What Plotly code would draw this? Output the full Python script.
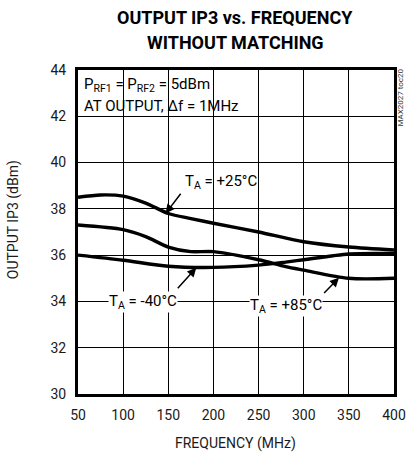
import plotly.graph_objects as go

# ---- data ----
freq_25 = [50, 75, 100, 125, 150, 175, 200, 250, 300, 350, 400]
ip3_25 = [38.5, 38.6, 38.55, 38.25, 37.8, 37.58, 37.38, 37.0, 36.58, 36.35, 36.22]

freq_85 = [50, 100, 125, 150, 175, 200, 250, 280, 300, 350, 400]
ip3_85 = [37.3, 37.1, 36.8, 36.35, 36.15, 36.15, 35.8, 35.5, 35.35, 35.0, 35.0]

freq_m40 = [50, 100, 150, 200, 250, 280, 300, 350, 400]
ip3_m40 = [36.0, 35.78, 35.52, 35.47, 35.57, 35.7, 35.8, 36.05, 36.07]

x_ticks = [50, 100, 150, 200, 250, 300, 350, 400]
y_ticks = [30, 32, 34, 36, 38, 40, 42, 44]

FONT = "Roboto, Arial, sans-serif"
TXT = "#1a1a1a"

fig = go.Figure()
for fx, fy in [(freq_25, ip3_25), (freq_85, ip3_85), (freq_m40, ip3_m40)]:
    fig.add_trace(go.Scatter(x=fx, y=fy, mode="lines",
                             line=dict(color="black", width=3.4, shape="spline", smoothing=0.8),
                             showlegend=False, hoverinfo="skip"))

axis_common = dict(showgrid=True, gridcolor="black", gridwidth=1, zeroline=False,
                   ticks="", showline=True, linecolor="black", linewidth=3, mirror=True,
                   tickfont=dict(family=FONT, size=14, color=TXT))

fig.update_xaxes(range=[50, 400], tickvals=x_ticks, ticktext=[str(v) for v in x_ticks],
                 ticklabelstandoff=6, **axis_common)
fig.update_yaxes(range=[30, 44], tickvals=y_ticks, ticktext=[str(v) for v in y_ticks],
                 ticklabelstandoff=6, **axis_common)

ann_font = dict(family=FONT, size=15, color="black")
arrow = dict(showarrow=True, arrowhead=2, arrowsize=1.2, arrowwidth=1.5, arrowcolor="black",
             text="", xref="x", yref="y", axref="x", ayref="y")
annotations = [
    # title
    dict(x=0.497, y=1.163, xref="paper", yref="paper", xanchor="center", yanchor="middle",
         showarrow=False, text="<b>OUTPUT IP3 vs. FREQUENCY</b>",
         font=dict(family=FONT, size=18, color="black")),
    dict(x=0.497, y=1.086, xref="paper", yref="paper", xanchor="center", yanchor="middle",
         showarrow=False, text="<b>WITHOUT MATCHING</b>",
         font=dict(family=FONT, size=18, color="black")),
    # axis titles
    dict(x=0.497, y=-0.154, xref="paper", yref="paper", xanchor="center", yanchor="middle",
         showarrow=False, text="FREQUENCY (MHz)", font=dict(family=FONT, size=14, color=TXT)),
    dict(x=-0.205, y=0.537, xref="paper", yref="paper", xanchor="center", yanchor="middle",
         showarrow=False, text="OUTPUT IP3 (dBm)", textangle=-90,
         font=dict(family=FONT, size=14, color=TXT)),
    # conditions
    dict(x=54, y=43.35, xref="x", yref="y", xanchor="left", yanchor="middle", showarrow=False,
         text="P<sub>RF1</sub> = P<sub>RF2</sub> = 5dBm", font=ann_font),
    dict(x=54, y=42.45, xref="x", yref="y", xanchor="left", yanchor="middle", showarrow=False,
         text="AT OUTPUT, \u0394f = 1MHz", font=ann_font),
    # curve labels
    dict(x=147, y=37.8, ax=165, ay=38.72, **arrow),
    dict(x=166, y=39.15, xref="x", yref="y", xanchor="left", yanchor="middle", showarrow=False,
         text="T<sub>A</sub> = +25°C", font=ann_font),
    dict(x=181, y=35.45, ax=159, ay=34.5, **arrow),
    dict(x=122.5, y=33.97, xref="x", yref="y", xanchor="center", yanchor="middle", showarrow=False,
         text="T<sub>A</sub> = -40°C", font=ann_font, bgcolor="white", borderpad=0),
    dict(x=339, y=35.02, ax=321, ay=34.3, **arrow),
    dict(x=280.5, y=33.8, xref="x", yref="y", xanchor="center", yanchor="middle", showarrow=False,
         text="T<sub>A</sub> = +85°C", font=ann_font, bgcolor="white", borderpad=0),
    # side code
    dict(x=1.022, y=0.915, xref="paper", yref="paper", xanchor="center", yanchor="middle",
         showarrow=False, text="MAX2027 toc20", textangle=-90,
         font=dict(family=FONT, size=8, color="#333")),
]

fig.update_layout(
    width=417, height=455,
    margin=dict(l=78, r=11, t=70, b=61),
    paper_bgcolor="white", plot_bgcolor="white",
    annotations=annotations,
)

fig.write_html("out.html", config={"displayModeBar": False},
               post_script="document.body.style.margin='0';")
